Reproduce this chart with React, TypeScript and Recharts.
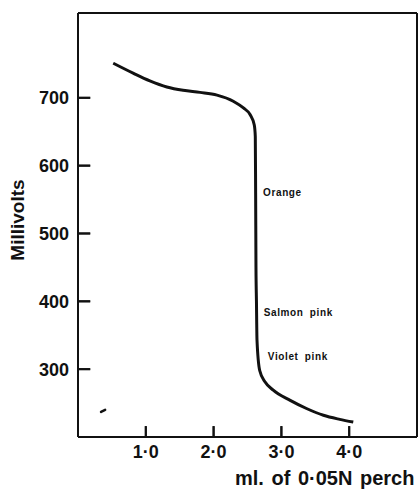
import { LineChart, Line, XAxis, YAxis, ReferenceLine, ReferenceDot, Label } from "recharts"

// titration curve
const volume = [0.52, 0.82, 1.06, 1.31, 1.55, 1.8, 2.05, 2.29, 2.44, 2.54, 2.6, 2.615, 2.62, 2.625, 2.632, 2.64, 2.68, 2.76, 2.88, 3.13, 3.37, 3.62, 3.86, 4.06]
const millivolts = [751, 736, 725, 716, 711, 708, 704, 695, 685, 675, 660, 643, 560, 450, 400, 343, 298, 281, 269, 254, 242, 232, 226, 222]

// small stray mark near the origin
const strayVolume = [0.34, 0.4]
const strayMillivolts = [237, 240]

const xTicks = [1, 2, 3, 4]
const xTickLabels = ["1·0", "2·0", "3·0", "4·0"]
const yTicks = [300, 400, 500, 600, 700]

const notes = ["Orange", "Salmon pink", "Violet pink"]
const noteX = [2.73, 2.74, 2.8]
const noteY = [560, 383, 318]

const data = volume.map((v, i) => ({ v, mv: millivolts[i] }))
const stray = strayVolume.map((v, i) => ({ v, mv: strayMillivolts[i] }))

const font = "'Liberation Sans', Arial, sans-serif"
const ink = "#111"

// inward tick marks, in axis units
const X_MIN = 0
const X_MAX = 5
const Y_MIN = 200
const Y_MAX = 825
const yTickLen = 0.18
const xTickLen = 16

function YTick(props: any) {
  const { x, y, payload } = props
  return (
    <text x={x} y={y} dy={6.5} textAnchor="end" fontSize={18} fontWeight={700} fontFamily={font} fill={ink}>
      {payload.value}
    </text>
  )
}

function XTick(props: any) {
  const { x, y, payload } = props
  return (
    <text x={x} y={y} dy={14} textAnchor="middle" fontSize={18} fontWeight={700} fontFamily={font} fill={ink}>
      {xTickLabels[xTicks.indexOf(payload.value)]}
    </text>
  )
}

export default function App() {
  return (
    <div style={{ position: "absolute", left: 0, top: 0, width: 418, height: 491, background: "#fff" }}>
      <LineChart width={418} height={491} data={data} margin={{ top: 13, right: 1, left: 0, bottom: 0 }}>
        <XAxis
          dataKey="v"
          type="number"
          domain={[X_MIN, X_MAX]}
          ticks={xTicks}
          tickSize={-11}
          tickMargin={18}
          tickLine={false}
          tick={<XTick />}
          height={54}
          axisLine={{ stroke: ink, strokeWidth: 2 }}
        >
          <Label
            content={() => (
              <text x={235} y={485} fontSize={20} fontFamily={font} fontWeight={700} wordSpacing={2} fill={ink}>
                ml. of 0·05N perch
              </text>
            )}
          />
        </XAxis>
        <YAxis
          type="number"
          domain={[Y_MIN, Y_MAX]}
          ticks={yTicks}
          tickSize={-12}
          tickMargin={21}
          tickLine={false}
          tick={<YTick />}
          width={78}
          axisLine={{ stroke: ink, strokeWidth: 2 }}
        >
          <Label
            content={() => (
              <text
                transform="translate(17,220) rotate(-90)"
                textAnchor="middle"
                dominantBaseline="central"
                fontSize={19}
                fontWeight={700}
                fontFamily={font}
                fill={ink}
              >
                Millivolts
              </text>
            )}
          />
        </YAxis>
        <ReferenceLine y={Y_MAX} stroke={ink} strokeWidth={2} />
        <ReferenceLine x={X_MAX} stroke={ink} strokeWidth={2} />
        {yTicks.map((t) => (
          <ReferenceLine
            key={"ry" + t}
            ifOverflow="visible"
            segment={[{ x: X_MIN, y: t }, { x: X_MIN + yTickLen, y: t }]}
            stroke={ink}
            strokeWidth={2}
          />
        ))}
        {xTicks.map((t) => (
          <ReferenceLine
            key={"rx" + t}
            ifOverflow="visible"
            segment={[{ x: t, y: Y_MIN }, { x: t, y: Y_MIN + xTickLen }]}
            stroke={ink}
            strokeWidth={2}
          />
        ))}
        {notes.map((n, i) => (
          <ReferenceDot
            key={n}
            x={noteX[i]}
            y={noteY[i]}
            r={0}
            stroke="none"
            label={{
              value: n,
              position: "right",
              offset: 0,
              style: { fontSize: 10, fontWeight: 700, fontFamily: font, fill: ink, letterSpacing: 0.6, wordSpacing: 3 },
            }}
          />
        ))}
        {yTicks.map((t) => (
          <Line
            key={"yt" + t}
            type="linear"
            data={[{ v: X_MIN, mv: t }, { v: X_MIN + yTickLen, mv: t }]}
            dataKey="mv"
            stroke={ink}
            strokeWidth={2}
            dot={false}
            isAnimationActive={false}
          />
        ))}
        {xTicks.map((t) => (
          <Line
            key={"xt" + t}
            type="linear"
            data={[{ v: t, mv: Y_MIN }, { v: t, mv: Y_MIN + xTickLen }]}
            dataKey="mv"
            stroke={ink}
            strokeWidth={2}
            dot={false}
            isAnimationActive={false}
          />
        ))}
        <Line
          type="monotone"
          dataKey="mv"
          stroke={ink}
          strokeWidth={3}
          dot={false}
          isAnimationActive={false}
        />
        <Line
          data={stray}
          dataKey="mv"
          stroke={ink}
          strokeWidth={2.5}
          strokeLinecap="round"
          dot={false}
          isAnimationActive={false}
        />
      </LineChart>
    </div>
  )
}
